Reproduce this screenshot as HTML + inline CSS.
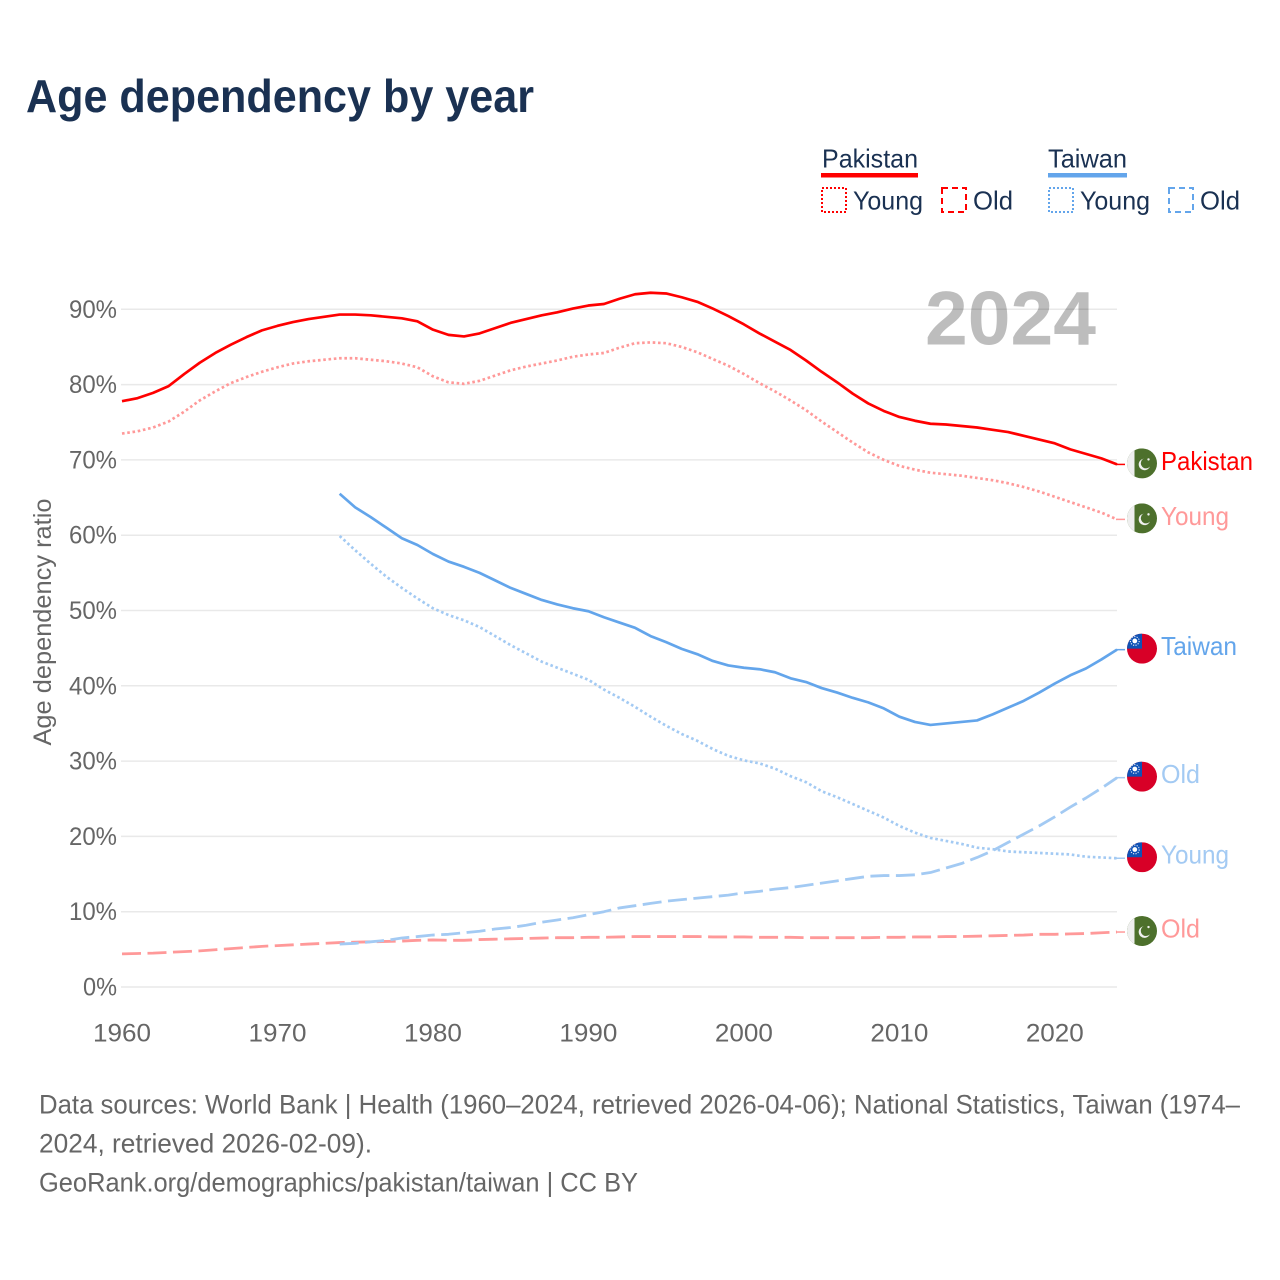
<!DOCTYPE html>
<html lang="en">
<head>
<meta charset="utf-8">
<title>Age dependency by year</title>
<style>
html,body{margin:0;padding:0;background:#fff;}
svg{display:block;font-family:"Liberation Sans",Arial,sans-serif;}
</style>
</head>
<body>
<svg id="chart" xmlns="http://www.w3.org/2000/svg" width="1280" height="1280" viewBox="0 0 1280 1280">
  <defs>
    <clipPath id="flag-clip"><circle cx="0" cy="0" r="15"></circle></clipPath>
  </defs>
  <rect x="0" y="0" width="1280" height="1280" fill="#ffffff"></rect>
  <text x="26" y="112" font-size="46" font-weight="700" fill="#1a3152" textLength="508" lengthAdjust="spacingAndGlyphs">Age dependency by year</text>

  <g font-size="26" fill="#1a3152">
    <text x="822" y="167.5" textLength="96" lengthAdjust="spacingAndGlyphs">Pakistan</text>
    <rect x="821" y="173" width="97" height="4.5" fill="#ff0000"></rect>
    <rect x="822" y="188" width="24" height="24" fill="none" stroke="#ff0000" stroke-width="2" stroke-dasharray="2 2"></rect>
    <text x="853" y="209.5" textLength="70" lengthAdjust="spacingAndGlyphs">Young</text>
    <rect x="942" y="188" width="24" height="24" fill="none" stroke="#ff0000" stroke-width="2" stroke-dasharray="6 4"></rect>
    <text x="973" y="209.5" textLength="40" lengthAdjust="spacingAndGlyphs">Old</text>

    <text x="1048" y="167.5" textLength="79" lengthAdjust="spacingAndGlyphs">Taiwan</text>
    <rect x="1048" y="173" width="79" height="4.5" fill="#63a5eb"></rect>
    <rect x="1049" y="188" width="24" height="24" fill="none" stroke="#63a5eb" stroke-width="2" stroke-dasharray="2 2"></rect>
    <text x="1080" y="209.5" textLength="70" lengthAdjust="spacingAndGlyphs">Young</text>
    <rect x="1169" y="188" width="24" height="24" fill="none" stroke="#63a5eb" stroke-width="2" stroke-dasharray="6 4"></rect>
    <text x="1200" y="209.5" textLength="40" lengthAdjust="spacingAndGlyphs">Old</text>
  </g>

  <g id="grid"></g>
  <g id="y-ticks"></g>
  <g id="x-ticks"></g>
  <text transform="translate(51,622) rotate(-90)" text-anchor="middle" font-size="25" fill="#666666" textLength="247" lengthAdjust="spacingAndGlyphs">Age dependency ratio</text>
  <text x="925" y="344.5" font-size="76" font-weight="700" fill="#000000" fill-opacity="0.26" textLength="171" lengthAdjust="spacingAndGlyphs">2024</text>

  <g id="series"></g>
  <g id="end-labels"></g>

  <g font-size="26.5" fill="#666666">
    <text x="39" y="1113.5" textLength="1201" lengthAdjust="spacingAndGlyphs">Data sources: World Bank | Health (1960–2024, retrieved 2026-04-06); National Statistics, Taiwan (1974–</text>
    <text x="39" y="1152.5" textLength="333" lengthAdjust="spacingAndGlyphs">2024, retrieved 2026-02-09).</text>
    <text x="39" y="1191.5" textLength="599" lengthAdjust="spacingAndGlyphs">GeoRank.org/demographics/pakistan/taiwan | CC BY</text>
  </g>
</svg>
<script>
const yTickValues = [0, 10, 20, 30, 40, 50, 60, 70, 80, 90];
const xTickYears = [1960, 1970, 1980, 1990, 2000, 2010, 2020];
const pakistanStartYear = 1960;
const taiwanStartYear = 1974;
const pakistanTotal = [77.8,78.2,78.9,79.8,81.4,82.9,84.2,85.3,86.3,87.2,87.8,88.3,88.7,89.0,89.3,89.3,89.2,89.0,88.8,88.4,87.3,86.6,86.4,86.8,87.5,88.2,88.7,89.2,89.6,90.1,90.5,90.7,91.4,92.0,92.2,92.1,91.6,91.0,90.1,89.1,88.0,86.8,85.7,84.6,83.2,81.7,80.3,78.8,77.5,76.5,75.7,75.2,74.8,74.7,74.5,74.3,74.0,73.7,73.2,72.7,72.2,71.4,70.8,70.2,69.4];
const pakistanYoung = [73.5,73.8,74.3,75.1,76.4,77.9,79.1,80.2,81.0,81.7,82.3,82.8,83.1,83.3,83.5,83.5,83.3,83.1,82.8,82.3,81.1,80.3,80.1,80.5,81.2,81.9,82.4,82.8,83.2,83.7,84.0,84.2,84.9,85.5,85.6,85.5,85.0,84.3,83.4,82.5,81.4,80.2,79.1,77.9,76.6,75.1,73.7,72.3,71.0,70.0,69.2,68.7,68.3,68.1,67.9,67.6,67.3,66.9,66.4,65.8,65.1,64.4,63.7,63.0,62.1];
const pakistanOld = [4.4,4.45,4.5,4.6,4.7,4.8,4.95,5.1,5.25,5.4,5.5,5.6,5.7,5.8,5.9,5.95,6.0,6.05,6.1,6.2,6.25,6.2,6.2,6.3,6.35,6.4,6.45,6.5,6.55,6.55,6.6,6.6,6.65,6.7,6.7,6.7,6.7,6.7,6.65,6.65,6.65,6.6,6.6,6.6,6.55,6.55,6.55,6.55,6.55,6.6,6.6,6.65,6.65,6.7,6.7,6.75,6.8,6.85,6.9,7.0,7.0,7.05,7.1,7.2,7.3];
const taiwanTotal = [65.5,63.7,62.4,61.0,59.6,58.7,57.5,56.5,55.8,55.0,54.0,53.0,52.2,51.4,50.8,50.3,49.9,49.1,48.4,47.7,46.6,45.8,44.9,44.2,43.3,42.7,42.4,42.2,41.8,41.0,40.5,39.7,39.1,38.4,37.8,37.0,35.9,35.2,34.8,35.0,35.2,35.4,36.2,37.1,38.0,39.1,40.3,41.4,42.3,43.5,44.8];
const taiwanYoung = [59.9,58.0,56.2,54.5,53.0,51.6,50.3,49.4,48.7,47.8,46.6,45.4,44.3,43.2,42.4,41.6,40.8,39.5,38.4,37.2,35.9,34.7,33.6,32.7,31.6,30.7,30.1,29.7,29.0,28.0,27.2,26.0,25.2,24.3,23.4,22.5,21.4,20.5,19.8,19.4,19.0,18.5,18.3,18.0,17.9,17.8,17.7,17.6,17.3,17.2,17.1];
const taiwanOld = [5.7,5.8,6.0,6.2,6.5,6.7,6.9,7.0,7.2,7.4,7.7,7.9,8.2,8.6,8.9,9.2,9.6,10.0,10.5,10.8,11.1,11.4,11.6,11.8,12.0,12.2,12.5,12.7,13.0,13.2,13.5,13.8,14.1,14.4,14.7,14.8,14.8,14.9,15.2,15.8,16.4,17.2,18.1,19.2,20.3,21.4,22.6,23.9,25.1,26.4,27.8];

const NS = 'http://www.w3.org/2000/svg';
const xScale = function (year) { return 122 + (year - 1960) * (995 / 64); };
const yScale = function (v) { return 987 - v * 7.53; };

function make(tag, parent, attrs) {
  const el = document.createElementNS(NS, tag);
  for (const k in attrs) el.setAttribute(k, attrs[k]);
  parent.appendChild(el);
  return el;
}

const gridG = document.getElementById('grid');
const yTicksG = document.getElementById('y-ticks');
const xTicksG = document.getElementById('x-ticks');
const seriesG = document.getElementById('series');
const labelsG = document.getElementById('end-labels');

yTickValues.forEach(function (v) {
  const line = make('line', gridG, { x1: 121, x2: 1117, y1: yScale(v), y2: yScale(v), stroke: '#e9e9e9', 'stroke-width': 1.5 });
  
  
  const label = v + '%';
  const t = make('text', yTicksG, { x: 117, y: yScale(v) + 8.5, 'text-anchor': 'end', 'font-size': 25, fill: '#666666', textLength: label.length * 14 + 6, lengthAdjust: 'spacingAndGlyphs' });
  
  
  t.textContent = label;
});

xTickYears.forEach(function (year) {
  const t = make('text', xTicksG, { x: xScale(year), y: 1041.5, 'text-anchor': 'middle', 'font-size': 25, fill: '#666666', textLength: 58, lengthAdjust: 'spacingAndGlyphs' });
  
  
  t.textContent = year;
});

function drawSeries(name, values, startYear, color, width, dash) {
  const d = values.map(function (v, i) {
    return (i ? 'L' : 'M') + xScale(startYear + i).toFixed(2) + ' ' + yScale(v).toFixed(2);
  }).join(' ');
  const p = make('path', seriesG, { d: d, fill: 'none', stroke: color, 'stroke-width': width, 'stroke-linejoin': 'round' });
  if (dash) p.setAttribute('stroke-dasharray', dash);
  
  
  const last = yScale(values[values.length - 1]);
  const c = make('line', seriesG, { x1: xScale(2024) - 1, x2: 1125, y1: last, y2: last, stroke: color, 'stroke-width': 1.5 });
  
  
}

function drawPakistanFlag(parent) {
  const clip = make('g', parent, { 'clip-path': 'url(#flag-clip)' });
  make('rect', clip, { x: -15, y: -15, width: 30, height: 30, fill: '#4d702c' });
  make('rect', clip, { x: -15, y: -15, width: 7.5, height: 30, fill: '#efefef' });
  make('circle', clip, { cx: 2.5, cy: 1, r: 5.8, fill: '#f0f0f0' });
  make('circle', clip, { cx: 4, cy: -0.2, r: 5.2, fill: '#4d702c' });
  make('circle', clip, { cx: 6.5, cy: -4, r: 1.2, fill: '#f0f0f0' });
}

function drawTaiwanFlag(parent) {
  const clip = make('g', parent, { 'clip-path': 'url(#flag-clip)' });
  make('rect', clip, { x: -15, y: -15, width: 30, height: 30, fill: '#d80027' });
  make('rect', clip, { x: -15, y: -15, width: 15, height: 15, fill: '#0f52b5' });
  make('circle', clip, { cx: -7.2, cy: -7.7, r: 4.4, fill: 'none', stroke: '#e8eefa', 'stroke-width': 1.1, 'stroke-dasharray': '1.2 1.3' });
  make('circle', clip, { cx: -7.2, cy: -7.7, r: 2.4, fill: '#ffffff' });
}

function drawEndLabel(name, text, lastValue, color, length, flagFn) {
  const ly = yScale(lastValue);
  const flag = make('g', labelsG, { transform: 'translate(1142,' + (ly - 1) + ')' });
  
  
  flagFn(flag);
  const t = make('text', labelsG, { x: 1161, y: ly + 5.5, 'font-size': 26, fill: color, textLength: length, lengthAdjust: 'spacingAndGlyphs' });
  
  
  t.textContent = text;
}

drawSeries('pakistan-old', pakistanOld, pakistanStartYear, '#ff9999', 2.8, '19 6.5');
drawSeries('taiwan-old', taiwanOld, taiwanStartYear, '#a3caf3', 2.8, '19 6.5');
drawSeries('pakistan-young', pakistanYoung, pakistanStartYear, '#ff9999', 2.7, '2.6 2.7');
drawSeries('taiwan-young', taiwanYoung, taiwanStartYear, '#a3caf3', 2.7, '2.6 2.7');
drawSeries('pakistan-total', pakistanTotal, pakistanStartYear, '#ff0000', 2.7, '');
drawSeries('taiwan-total', taiwanTotal, taiwanStartYear, '#63a5eb', 2.7, '');

drawEndLabel('pakistan-total', 'Pakistan', pakistanTotal[pakistanTotal.length - 1], '#ff0000', 92, drawPakistanFlag);
drawEndLabel('pakistan-young', 'Young', pakistanYoung[pakistanYoung.length - 1], '#ff9999', 68, drawPakistanFlag);
drawEndLabel('taiwan-total', 'Taiwan', taiwanTotal[taiwanTotal.length - 1], '#63a5eb', 76, drawTaiwanFlag);
drawEndLabel('taiwan-old', 'Old', taiwanOld[taiwanOld.length - 1], '#a3caf3', 39, drawTaiwanFlag);
drawEndLabel('taiwan-young', 'Young', taiwanYoung[taiwanYoung.length - 1], '#a3caf3', 68, drawTaiwanFlag);
drawEndLabel('pakistan-old', 'Old', pakistanOld[pakistanOld.length - 1], '#ff9999', 39, drawPakistanFlag);
</script>
</body>
</html>
